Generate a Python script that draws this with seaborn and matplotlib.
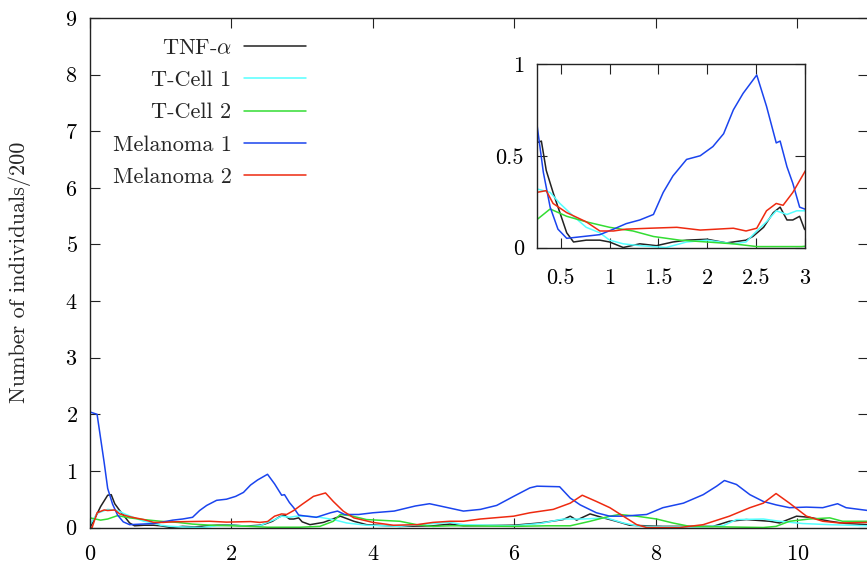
import numpy as np
import pandas as pd
import seaborn as sns
import matplotlib
matplotlib.use("Agg")
import matplotlib.pyplot as plt
from matplotlib.ticker import FuncFormatter

# %% data (time, number of individuals/200)
series_names = [r"TNF-$\alpha$", "T-Cell 1", "T-Cell 2", "Melanoma 1", "Melanoma 2"]
series_colors = ["#222222", "#55ffff", "#33dd33", "#1a44ee", "#ee2a10"]

tnf_x = [0, 0.06, 0.15, 0.25, 0.3, 0.35, 0.42, 0.49, 0.56, 0.63, 0.76, 0.9, 1.0, 1.07, 1.14, 1.31,
         1.48, 1.65, 1.79, 2.0, 2.2, 2.4, 2.47, 2.58, 2.68, 2.75, 2.82, 2.88, 2.95, 3.0, 3.11, 3.3,
         3.54, 3.73, 3.91, 4.38, 4.85, 5.09, 5.28, 5.99, 6.36, 6.69, 6.79, 6.88, 7.07, 7.26, 7.44,
         7.63, 8.1, 8.81, 9.04, 9.28, 9.61, 9.75, 9.99, 10.17, 10.46, 10.69, 11.0]
tnf_y = [0, 0.14, 0.37, 0.57, 0.58, 0.42, 0.30, 0.19, 0.08, 0.03, 0.04, 0.04, 0.03, 0.015, 0.0, 0.02,
         0.01, 0.03, 0.04, 0.045, 0.025, 0.04, 0.06, 0.11, 0.19, 0.22, 0.15, 0.15, 0.17, 0.10, 0.05, 0.09,
         0.20, 0.11, 0.05, 0.02, 0.03, 0.06, 0.03, 0.04, 0.08, 0.14, 0.20, 0.13, 0.24, 0.17, 0.11,
         0.04, 0.02, 0.02, 0.11, 0.14, 0.11, 0.08, 0.20, 0.18, 0.11, 0.07, 0.05]

tc1_x = [0, 0.1, 0.25, 0.39, 0.49, 0.63, 0.76, 0.9, 1.0, 1.14, 1.31, 1.58, 1.79, 2.0, 2.27, 2.4, 2.51,
         2.61, 2.71, 2.82, 2.92, 3.0, 3.07, 3.25, 3.44, 3.63, 3.91, 4.38, 4.85, 5.09, 5.28, 5.99, 6.36,
         6.69, 6.97, 7.3, 7.54, 7.77, 8.57, 8.95, 9.14, 9.52, 9.75, 10.08, 10.46, 11.0]
tc1_y = [0.05, 0.25, 0.32, 0.30, 0.24, 0.17, 0.11, 0.08, 0.04, 0.02, 0.01, 0.0, 0.03, 0.04, 0.02, 0.03, 0.09,
         0.14, 0.20, 0.18, 0.20, 0.20, 0.20, 0.18, 0.14, 0.08, 0.04, 0.02, 0.07, 0.09, 0.05, 0.03, 0.07,
         0.15, 0.15, 0.17, 0.08, 0.02, 0.01, 0.03, 0.14, 0.15, 0.11, 0.07, 0.05, 0.03]

tc2_x = [0, 0.15, 0.25, 0.39, 0.56, 0.76, 1.0, 1.24, 1.45, 1.72, 2.0, 2.27, 2.51, 2.97, 3.25, 3.44, 3.54,
         3.68, 3.91, 4.38, 4.62, 4.85, 5.09, 5.28, 5.99, 6.46, 6.79, 7.07, 7.35, 7.49, 7.73, 8.01, 8.24,
         8.48, 9.52, 9.70, 9.89, 10.17, 10.46, 10.64, 11.0]
tc2_y = [0.17, 0.13, 0.15, 0.21, 0.17, 0.14, 0.11, 0.09, 0.06, 0.04, 0.03, 0.02, 0.005, 0.005, 0.02, 0.11, 0.23,
         0.21, 0.14, 0.11, 0.05, 0.02, 0.03, 0.03, 0.02, 0.03, 0.03, 0.11, 0.20, 0.23, 0.20, 0.15, 0.08,
         0.02, 0.0, 0.02, 0.11, 0.15, 0.17, 0.11, 0.11]

mel1_x = [0, 0.1, 0.2, 0.25, 0.32, 0.39, 0.47, 0.56, 0.73, 0.9, 1.04, 1.17, 1.31, 1.45, 1.55, 1.65, 1.79,
          1.93, 2.06, 2.17, 2.27, 2.37, 2.51, 2.61, 2.71, 2.75, 2.82, 2.88, 2.95, 3.0, 3.2, 3.4, 3.5, 3.6,
          3.8, 4.0, 4.3, 4.6, 4.8, 4.95, 5.28, 5.52, 5.75, 5.99, 6.22, 6.32, 6.64, 6.79, 6.93, 7.16, 7.35,
          7.54, 7.87, 8.1, 8.39, 8.67, 8.86, 8.97, 9.14, 9.33, 9.52, 9.70, 9.89, 10.13, 10.36, 10.57,
          10.69, 11.0]
mel1_y = [2.04, 2.0, 1.15, 0.69, 0.41, 0.22, 0.10, 0.05, 0.06, 0.07, 0.10, 0.13, 0.15, 0.18, 0.30, 0.39, 0.48,
          0.50, 0.55, 0.62, 0.75, 0.84, 0.94, 0.77, 0.57, 0.58, 0.44, 0.35, 0.22, 0.21, 0.18, 0.26, 0.29, 0.23,
          0.23, 0.26, 0.29, 0.38, 0.42, 0.38, 0.29, 0.32, 0.39, 0.55, 0.70, 0.73, 0.72, 0.52, 0.40, 0.26, 0.20,
          0.20, 0.23, 0.35, 0.43, 0.58, 0.73, 0.83, 0.76, 0.58, 0.46, 0.40, 0.35, 0.36, 0.35, 0.42,
          0.35, 0.30]

mel2_x = [0, 0.03, 0.10, 0.2, 0.25, 0.35, 0.42, 0.56, 0.76, 0.90, 1.04, 1.17, 1.41, 1.69, 1.93, 2.27, 2.4,
          2.51, 2.61, 2.71, 2.78, 2.88, 3.0, 3.16, 3.33, 3.44, 3.58, 3.73, 4.0, 4.29, 4.62, 4.85, 5.09,
          5.28, 5.52, 5.99, 6.22, 6.55, 6.79, 6.96, 7.16, 7.35, 7.54, 7.73, 7.87, 8.34, 8.67, 9.04, 9.33,
          9.52, 9.70, 9.89, 10.13, 10.36, 10.6, 11.0]
mel2_y = [0, 0, 0.26, 0.31, 0.30, 0.31, 0.24, 0.19, 0.14, 0.09, 0.09, 0.10, 0.105, 0.11, 0.095, 0.105, 0.09,
          0.105, 0.20, 0.24, 0.23, 0.30, 0.41, 0.55, 0.61, 0.46, 0.29, 0.17, 0.09, 0.04, 0.05, 0.09, 0.11,
          0.11, 0.15, 0.20, 0.26, 0.32, 0.43, 0.57, 0.46, 0.35, 0.20, 0.05, 0.0, 0.0, 0.05, 0.20, 0.35,
          0.43, 0.60, 0.43, 0.20, 0.11, 0.08, 0.09]

main_xticks = [0, 2, 4, 6, 8, 10]
main_yticks = [0, 1, 2, 3, 4, 5, 6, 7, 8, 9]
inset_xticks = [0.5, 1, 1.5, 2, 2.5, 3]
inset_yticks = [0, 0.5, 1]

all_x = [tnf_x, tc1_x, tc2_x, mel1_x, mel2_x]
all_y = [tnf_y, tc1_y, tc2_y, mel1_y, mel2_y]

# %% style
sns.set_style("ticks")
plt.rcParams["font.family"] = ["cmr10", "DejaVu Serif"]
plt.rcParams["mathtext.fontset"] = "cm"
plt.rcParams["axes.formatter.use_mathtext"] = True
plt.rcParams["axes.unicode_minus"] = False
fs = 16

fig = plt.figure(figsize=(8.67, 5.66), dpi=100)
ax = fig.add_axes([90 / 867, 38.5 / 566, 778 / 867, 509.5 / 566])
ax_in = fig.add_axes([536.5 / 867, 318.5 / 566, 268 / 867, 183.5 / 566])

for a in (ax, ax_in):
    for xs, ys, name, col in zip(all_x, all_y, series_names, series_colors):
        sns.lineplot(x=xs, y=ys, color=col, label=name, lw=1.1, ax=a, legend=False,
                     estimator=None, sort=False)
    for s in a.spines.values():
        s.set_linewidth(1.0)
        s.set_color("#222222")
    a.tick_params(direction="in", length=7, width=0.8, top=True, right=True,
                  labelsize=fs, colors="#222222", labelcolor="black")

ax.set_xlim(0, 11)
ax.set_ylim(0, 9)
ax.set_xticks(main_xticks)
ax.set_yticks(main_yticks)
ax.tick_params(axis="x", pad=12)
ax.tick_params(axis="y", pad=9)
ax.set_ylabel("Number of individuals/200", fontsize=fs, labelpad=24)

ax_in.set_xlim(0.25, 3)
ax_in.set_ylim(0, 1)
ax_in.set_xticks(inset_xticks)
ax_in.set_yticks(inset_yticks)
fmt = FuncFormatter(lambda v, p: "%g" % v)
ax_in.xaxis.set_major_formatter(fmt)
ax_in.yaxis.set_major_formatter(fmt)
ax_in.tick_params(axis="x", pad=15)
ax_in.tick_params(axis="y", pad=9)

ax.legend(loc="upper right", bbox_to_anchor=(0.2776, 0.960), markerfirst=False, frameon=False,
          fontsize=fs, handlelength=2.8, handletextpad=0.55, labelspacing=0.57,
          borderpad=0, borderaxespad=0)

fig.savefig("out.png", dpi=100)
